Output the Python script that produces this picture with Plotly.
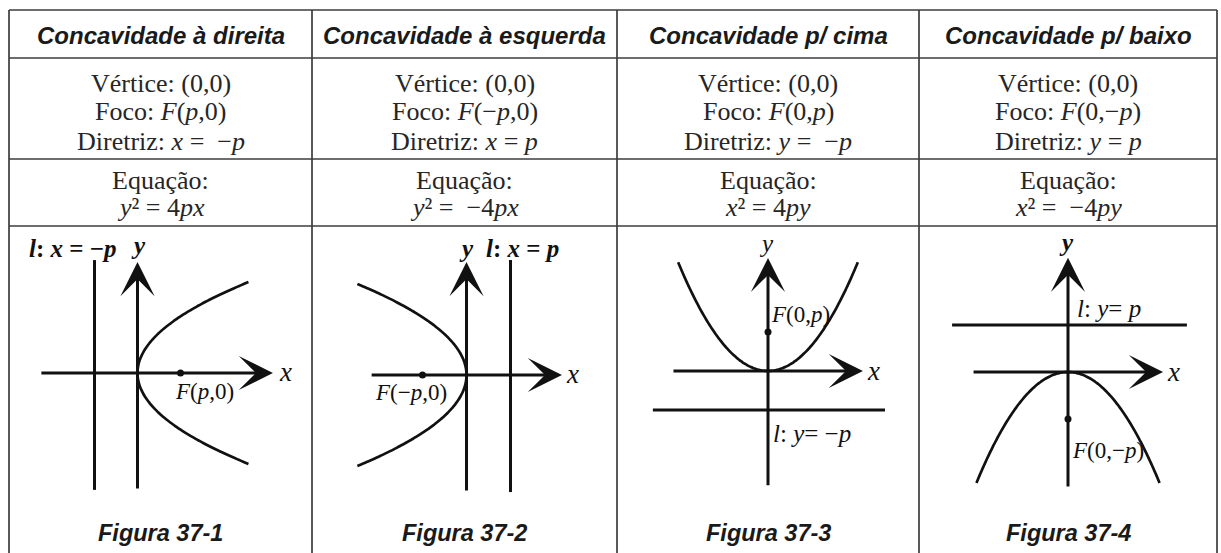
import numpy as np
import plotly.graph_objects as go

W, H = 1221, 553

# ---------------- table content ----------------
headers = ["Concavidade à direita", "Concavidade à esquerda",
           "Concavidade p/ cima", "Concavidade p/ baixo"]
vertices = ["(0,0)", "(0,0)", "(0,0)", "(0,0)"]
focos = ["<i>F</i>(<i>p</i>,0)", "<i>F</i>(−<i>p</i>,0)",
         "<i>F</i>(0,<i>p</i>)", "<i>F</i>(0,−<i>p</i>)"]
diretrizes = ["<i>x</i> =  −<i>p</i>", "<i>x</i> = <i>p</i>",
              "<i>y</i> =  −<i>p</i>", "<i>y</i> = <i>p</i>"]
equacoes = ["<i>y</i>² = 4<i>px</i>", "<i>y</i>² =  −4<i>px</i>",
            "<i>x</i>² = 4<i>py</i>", "<i>x</i>² =  −4<i>py</i>"]
figuras = ["Figura 37-1", "Figura 37-2", "Figura 37-3", "Figura 37-4"]

# ---------------- diagram content (units of p) ----------------
p = 1.0
orient = ["right", "left", "up", "down"]
curve_reach = [2.58, 2.48, 2.79, 2.36]          # how far each branch is drawn along the axis
xaxis_ext = [(-2.27, 3.15), (-2.19, 2.17), (-3.57, 3.53), (-3.22, 3.19)]
yaxis_ext = [(-4.13, 3.92), (-4.05, 3.91), (-2.97, 2.90), (-2.47, 2.43)]
directrix_ext = [(-4.13, 3.99), (-4.05, 3.98), (-4.28, 4.35), (-3.89, 3.99)]
dir_labels = ["<b><i>l</i>: <i>x</i> = −<i>p</i></b>", "<b><i>l</i>: <i>x</i> = <i>p</i></b>",
              "<i>l</i>: <i>y</i>= −<i>p</i>", "<i>l</i>: <i>y</i>= <i>p</i>"]
focus_labels = ["<i>F</i>(<i>p</i>,0)", "<i>F</i>(−<i>p</i>,0)",
                "<i>F</i>(0,<i>p</i>)", "<i>F</i>(0,−<i>p</i>)"]

# ---------------- layout geometry (pixels) ----------------
cols = [9, 312, 617, 919, 1217]
rows = [10, 58, 159, 226]
origins = [(137.5, 373), (466.5, 375), (768, 371), (1068, 372)]
scales = [(43, 28.3), (44, 28.9), (26.9, 39), (29.8, 47)]

def PX(x):
    return x / W

def PY(y):
    return 1 - y / H

INK = "#111111"
LINE = "#3c3c3c"
SERIF = "Liberation Serif"
SANS = "Liberation Sans"

fig = go.Figure()
shapes = []
annotations = []

# table grid
for r in rows:
    shapes.append(dict(type="line", xref="paper", yref="paper", x0=PX(cols[0]), x1=PX(cols[-1]),
                       y0=PY(r), y1=PY(r), line=dict(color=LINE, width=1.7)))
for c in cols:
    shapes.append(dict(type="line", xref="paper", yref="paper", x0=PX(c), x1=PX(c),
                       y0=PY(rows[0]), y1=PY(H + 2), line=dict(color=LINE, width=1.7)))

def txt(x, y, s, size, family, color="#222", anchor="center"):
    annotations.append(dict(x=PX(x), y=PY(y), xref="paper", yref="paper", text=s, showarrow=False,
                            xanchor=anchor, yanchor="middle",
                            font=dict(size=size, family=family, color=color)))

BODY = "#262626"
for i in range(4):
    cx = (cols[i] + cols[i + 1]) / 2
    txt(cx, 35, "<b><i>" + headers[i] + "</i></b>", 24, SANS, "#1a1a1a")
    txt(cx, 83, "Vértice: " + vertices[i], 26, SERIF, BODY)
    txt(cx, 112, "Foco: " + focos[i], 26, SERIF, BODY)
    txt(cx, 141, "Diretriz: " + diretrizes[i], 26, SERIF, BODY)
    txt(cx, 180, "Equação:", 26, SERIF, BODY)
    txt(cx, 207, equacoes[i], 26, SERIF, BODY)
    txt(cx, 533, "<b><i>" + figuras[i] + "</i></b>", 23.5, SANS, "#1a1a1a")

# diagrams
for i in range(4):
    n = i + 1
    xa = "x" if n == 1 else f"x{n}"
    ya = "y" if n == 1 else f"y{n}"
    ox, oy = origins[i]
    sx, sy = scales[i]
    xr = [(cols[i] - ox) / sx, (cols[i + 1] - ox) / sx]
    yr = [(oy - H) / sy, (oy - rows[-1]) / sy]
    axkw = dict(visible=False, showgrid=False, zeroline=False, fixedrange=True)
    fig.update_layout(**{
        ("xaxis" if n == 1 else f"xaxis{n}"): dict(domain=[PX(cols[i]), PX(cols[i + 1])], range=xr,
                                                   anchor=ya, **axkw),
        ("yaxis" if n == 1 else f"yaxis{n}"): dict(domain=[0, PY(rows[-1])], range=yr,
                                                   anchor=xa, **axkw),
    })

    reach = curve_reach[i]
    half = np.sqrt(4 * p * reach)
    s = np.linspace(-half, half, 121)
    if orient[i] == "right":
        cxv, cyv = s ** 2 / (4 * p), s
        fx, fy = p, 0
        dx, dy = [-p, -p], list(directrix_ext[i])
    elif orient[i] == "left":
        cxv, cyv = -s ** 2 / (4 * p), s
        fx, fy = -p, 0
        dx, dy = [p, p], list(directrix_ext[i])
    elif orient[i] == "up":
        cxv, cyv = s, s ** 2 / (4 * p)
        fx, fy = 0, p
        dx, dy = list(directrix_ext[i]), [-p, -p]
    else:
        cxv, cyv = s, -s ** 2 / (4 * p)
        fx, fy = 0, -p
        dx, dy = list(directrix_ext[i]), [p, p]

    # directrix
    fig.add_trace(go.Scatter(x=dx, y=dy, mode="lines", xaxis=xa, yaxis=ya,
                             line=dict(color=INK, width=3), hoverinfo="skip"))
    # parabola
    fig.add_trace(go.Scatter(x=cxv, y=cyv, mode="lines", xaxis=xa, yaxis=ya,
                             line=dict(color=INK, width=2.7, shape="spline"), hoverinfo="skip"))
    # coordinate axes (arrows)
    x0, x1 = xaxis_ext[i]
    y0, y1 = yaxis_ext[i]
    annotations.append(dict(x=x1, y=0, ax=x0, ay=0, xref=xa, yref=ya, axref=xa, ayref=ya,
                            text="", showarrow=True, arrowhead=3, arrowsize=1.9,
                            arrowwidth=3, arrowcolor=INK))
    annotations.append(dict(x=0, y=y1, ax=0, ay=y0, xref=xa, yref=ya, axref=xa, ayref=ya,
                            text="", showarrow=True, arrowhead=3, arrowsize=1.9,
                            arrowwidth=3, arrowcolor=INK))
    # focus
    fig.add_trace(go.Scatter(x=[fx], y=[fy], mode="markers", xaxis=xa, yaxis=ya,
                             marker=dict(color=INK, size=7), hoverinfo="skip"))

# diagram labels (pixel placement)
txt(27, 248, dir_labels[0], 25, SERIF, INK, "left")
txt(138, 246, "<b><i>y</i></b>", 25, SERIF, INK)
txt(277, 372, "<i>x</i>", 27, SERIF, INK, "left")
txt(204, 391, focus_labels[0], 23, SERIF, INK)

txt(466, 248, "<b><i>y</i></b>", 25, SERIF, INK)
txt(484, 248, dir_labels[1], 25, SERIF, INK, "left")
txt(564, 374, "<i>x</i>", 27, SERIF, INK, "left")
txt(411, 392, focus_labels[1], 23, SERIF, INK)

txt(766, 243, "<i>y</i>", 25, SERIF, INK)
txt(865, 371, "<i>x</i>", 27, SERIF, INK, "left")
txt(769, 314, focus_labels[2], 23, SERIF, INK, "left")
txt(771, 433, dir_labels[2], 25, SERIF, INK, "left")

txt(1066, 242, "<b><i>y</i></b>", 25, SERIF, INK)
txt(1165, 372, "<i>x</i>", 27, SERIF, INK, "left")
txt(1075, 308, dir_labels[3], 25, SERIF, INK, "left")
txt(1070, 450, focus_labels[3], 23, SERIF, INK, "left")

fig.update_layout(width=W, height=H, margin=dict(l=0, r=0, t=0, b=0),
                  paper_bgcolor="white", plot_bgcolor="rgba(0,0,0,0)",
                  showlegend=False, shapes=shapes, annotations=annotations)

fig.write_html("out.html", config={"displayModeBar": False, "staticPlot": True},
               post_script="document.body.style.margin='0';")
